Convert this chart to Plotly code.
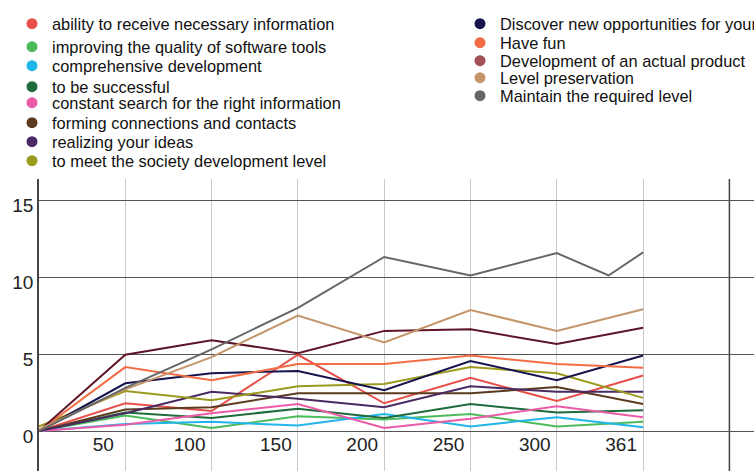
import plotly.graph_objects as go

# ---- data ----
x_pos = [0, 1, 2, 3, 4, 5, 6, 7]
tick_labels = ["50", "100", "150", "200", "250", "300", "361"]

names = [
    "ability to receive necessary information",
    "improving the quality of software tools",
    "comprehensive development",
    "to be successful",
    "constant search for the right information",
    "forming connections and contacts",
    "realizing your ideas",
    "to meet the society development level",
    "Discover new opportunities for yourself",
    "Have fun",
    "Development of an actual product",
    "Level preservation",
    "Maintain the required level",
]

ability = [0, 1.8, 1.3, 4.95, 1.8, 3.45, 1.95, 3.6]
improving = [0, 1.0, 0.2, 0.95, 0.75, 1.1, 0.3, 0.6]
comprehensive = [0, 0.45, 0.6, 0.35, 1.1, 0.3, 0.9, 0.25]
successful = [0, 1.2, 0.85, 1.45, 0.85, 1.75, 1.2, 1.35]
constant_search = [0, 0.4, 1.15, 1.75, 0.2, 0.8, 1.6, 0.9]
connections = [0, 1.4, 1.55, 2.45, 2.45, 2.45, 2.85, 1.75]
ideas = [0, 1.15, 2.55, 2.1, 1.55, 2.9, 2.55, 2.55]
society = [0.3, 2.6, 2.0, 2.9, 3.05, 4.15, 3.75, 2.15]
discover = [0, 3.1, 3.75, 3.9, 2.65, 4.55, 3.3, 4.9]
have_fun = [0, 4.15, 3.3, 4.35, 4.35, 4.9, 4.35, 4.1]
product = [0, 4.95, 5.9, 5.05, 6.5, 6.6, 5.65, 6.7]
preservation = [0.1, 2.7, 4.8, 7.5, 5.75, 7.85, 6.5, 7.9]
maintain_x = [0, 1, 2, 3, 4, 5, 6, 6.6, 7]
maintain = [0, 2.8, 5.3, 8.0, 11.3, 10.1, 11.55, 10.1, 11.6]

series_y = [ability, improving, comprehensive, successful, constant_search,
            connections, ideas, society, discover, have_fun, product,
            preservation, maintain]
series_x = [x_pos] * 12 + [maintain_x]

# ---- styles ----
line_colors = ["#e8504a", "#4cbb5c", "#22b5ea", "#1e6b3c", "#ea5ba8",
               "#5c3a1e", "#4a2a62", "#9c9a1e", "#15144e", "#f26d45",
               "#5e1526", "#c4956a", "#666666"]
legend_colors = ["#e8504a", "#4cbb5c", "#22b5ea", "#1e6b3c", "#ea5ba8",
                 "#5c3a1e", "#4a2a62", "#9c9a1e", "#15144e", "#f26d45",
                 "#a34f55", "#c4956a", "#666666"]
legend_y_px = [24, 47, 66, 87, 103, 123, 142, 161, 24, 43, 61, 78, 96]
legend_x_px = [12] * 8 + [460] * 5

W, H = 754, 471
ML, MT = 39, 179
PW, PH = W - ML, H - MT
FONT = "Liberation Sans, Arial, sans-serif"

fig = go.Figure()
for i, (nm, xs, ys) in enumerate(zip(names, series_x, series_y)):
    fig.add_trace(go.Scatter(x=xs, y=ys, mode="lines", name=nm,
                             line=dict(color=line_colors[i], width=2),
                             showlegend=False, hoverinfo="skip"))

layout_legends = {}
for i, nm in enumerate(names):
    lid = "legend" if i == 0 else f"legend{i+1}"
    fig.add_trace(go.Scatter(x=[None], y=[None], mode="markers", name=nm,
                             marker=dict(color=legend_colors[i], size=11),
                             legend=lid, showlegend=True))
    layout_legends[lid] = dict(
        xref="paper", yref="paper",
        x=(legend_x_px[i] - ML) / PW, y=(H - legend_y_px[i]) / PH,
        xanchor="left", yanchor="middle",
        bgcolor="rgba(0,0,0,0)", borderwidth=0,
        font=dict(family=FONT, size=16.4, color="#111111"),
    )

fig.update_layout(
    width=W, height=H,
    margin=dict(l=ML, r=0, t=MT, b=0, autoexpand=False),
    paper_bgcolor="white", plot_bgcolor="white",
    font=dict(family=FONT, color="#222222"),
    xaxis=dict(range=[0, PW / 86.3], tickmode="array",
               tickvals=[1, 2, 3, 4, 5, 6, 7], ticktext=tick_labels,
               showgrid=True, gridcolor="#c8c8c8", gridwidth=1,
               zeroline=False, showline=False, ticks="",
               anchor="free", position=40 / PH,
               ticklabelshift=-22,
               tickfont=dict(family=FONT, size=19, color="#222222")),
    yaxis=dict(range=[-40 / 15.4, 252 / 15.4], tickvals=[0, 5, 10, 15],
               showgrid=True, gridcolor="#555555", gridwidth=1,
               zeroline=True, zerolinecolor="#555555", zerolinewidth=1,
               showline=True, linecolor="#444444", linewidth=1.5,
               ticks="", ticklabelshift=5,
               tickfont=dict(family=FONT, size=19, color="#222222")),
    shapes=[dict(type="line", xref="x", yref="paper", x0=8, x1=8, y0=0, y1=1,
                 line=dict(color="#444444", width=1.5), layer="below")],
    **layout_legends,
)

fig.write_html("out.html",
               config={"displayModeBar": False},
               post_script="document.body.style.margin='0px';"
                           "document.body.style.overflow='hidden';")
